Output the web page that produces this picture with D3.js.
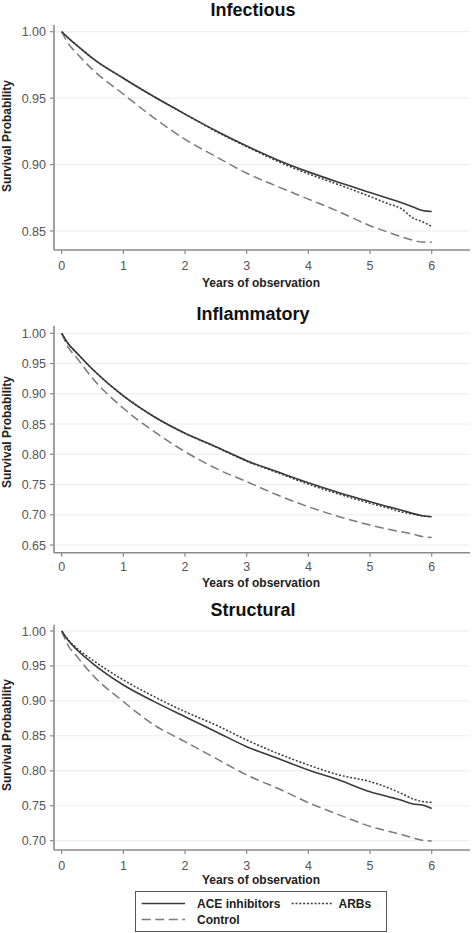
<!DOCTYPE html>
<html><head><meta charset="utf-8">
<script src="https://cdn.jsdelivr.net/npm/d3@7"></script>
<style>body{margin:0;background:#fff}svg{display:block;font-family:"Liberation Sans",Arial,sans-serif}</style>
</head><body><svg id="c" width="472" height="933"></svg>
<script>
// ---- data ----
const times = [0,0.1,0.25,0.5,1,1.5,2,2.5,3,3.5,4,4.5,5,5.3,5.5,5.7,5.85,6];
const seriesNames = ["ACE inhibitors","ARBs","Control"];
const panelTitles = ["Infectious","Inflammatory","Structural"];
const xTicks = [0,1,2,3,4,5,6];
const yTicksInfectious = [0.85,0.90,0.95,1.00];
const yTicksInflammatory = [0.65,0.70,0.75,0.80,0.85,0.90,0.95,1.00];
const yTicksStructural = [0.70,0.75,0.80,0.85,0.90,0.95,1.00];

const infectiousACE = [1.000,0.9955,0.9895,0.980,0.965,0.951,0.938,0.9255,0.914,0.9035,0.8945,0.8865,0.879,0.8745,0.8715,0.868,0.8655,0.8647];
const infectiousARB = [1.000,0.9955,0.9895,0.980,0.965,0.951,0.938,0.925,0.9135,0.9025,0.8930,0.8847,0.876,0.8704,0.867,0.8597,0.857,0.8534];
const infectiousCtl = [1.000,0.9915,0.9835,0.9715,0.953,0.935,0.919,0.906,0.8935,0.8835,0.874,0.8645,0.854,0.849,0.8458,0.843,0.8417,0.8416];

const inflamACE = [1.000,0.9835,0.967,0.9405,0.8964,0.862,0.8346,0.8126,0.7894,0.771,0.753,0.7365,0.7216,0.713,0.708,0.702,0.6985,0.6968];
const inflamARB = [1.000,0.9835,0.967,0.9405,0.8964,0.862,0.8346,0.812,0.7885,0.7695,0.7505,0.734,0.719,0.711,0.705,0.701,0.698,0.6968];
const inflamCtl = [1.000,0.978,0.9587,0.9256,0.876,0.8374,0.8043,0.7767,0.7547,0.7326,0.7133,0.6968,0.683,0.676,0.672,0.668,0.664,0.6626];

const structACE = [1.000,0.987,0.9728,0.9537,0.9227,0.899,0.8774,0.856,0.8345,0.8178,0.8011,0.7868,0.770,0.763,0.7582,0.7525,0.751,0.746];
const structARB = [1.000,0.988,0.975,0.9585,0.930,0.906,0.8846,0.8655,0.844,0.825,0.8083,0.794,0.7845,0.7755,0.768,0.7597,0.756,0.755];
const structCtl = [1.000,0.980,0.9633,0.937,0.899,0.8655,0.8417,0.8178,0.794,0.775,0.7545,0.737,0.7205,0.7135,0.709,0.704,0.7005,0.6995];

// ---- layout ----
const panels = [
  {title:panelTitles[0], ticks:yTicksInfectious, series:[infectiousACE,infectiousARB,infectiousCtl],
   titleY:16, axTop:25, axBot:250, yTopPx:31.7, yBotPx:231, xTickY:269.5, xLabY:287, yLabC:136},
  {title:panelTitles[1], ticks:yTicksInflammatory, series:[inflamACE,inflamARB,inflamCtl],
   titleY:320, axTop:326, axBot:552.7, yTopPx:333.3, yBotPx:545, xTickY:571, xLabY:587, yLabC:432},
  {title:panelTitles[2], ticks:yTicksStructural, series:[structACE,structARB,structCtl],
   titleY:616, axTop:625, axBot:850, yTopPx:631, yBotPx:840.7, xTickY:869.5, xLabY:884, yLabC:735}
];
const axL = 54, axR = 470;
const styles = [
  {stroke:"#3a3a3a", width:1.6, dash:null},
  {stroke:"#3a3a3a", width:1.5, dash:"2,1.8"},
  {stroke:"#7a7a7a", width:1.5, dash:"9,4.5"}
];
const svg = d3.select("#c");
const x = d3.scaleLinear().domain([0,6]).range([61.7,431.7]);

panels.forEach(p => {
  const y = d3.scaleLinear().domain([d3.min(p.ticks), d3.max(p.ticks)]).range([p.yBotPx, p.yTopPx]);
  const g = svg.append("g");
  g.selectAll("line.grid").data(p.ticks).join("line")
    .attr("x1", axL+1).attr("x2", axR).attr("y1", d=>y(d)).attr("y2", d=>y(d))
    .attr("stroke","#ececec").attr("stroke-width",1);
  g.append("line").attr("x1",axL).attr("x2",axL).attr("y1",p.axTop).attr("y2",p.axBot)
    .attr("stroke","#8a8a8a").attr("stroke-width",1.6);
  g.append("line").attr("x1",axL).attr("x2",axR).attr("y1",p.axBot).attr("y2",p.axBot)
    .attr("stroke","#8a8a8a").attr("stroke-width",1.6);
  g.selectAll("line.yt").data(p.ticks).join("line")
    .attr("x1",axL-4).attr("x2",axL).attr("y1",d=>y(d)).attr("y2",d=>y(d))
    .attr("stroke","#8a8a8a").attr("stroke-width",1.2);
  g.selectAll("text.yt").data(p.ticks).join("text")
    .attr("x",axL-8).attr("y",d=>y(d)).attr("dy","0.36em")
    .attr("text-anchor","end").attr("font-size",12.5).attr("fill","#555")
    .text(d=>d3.format(".2f")(d));
  g.selectAll("line.xt").data(xTicks).join("line")
    .attr("x1",d=>x(d)).attr("x2",d=>x(d)).attr("y1",p.axBot).attr("y2",p.axBot+4)
    .attr("stroke","#8a8a8a").attr("stroke-width",1.2);
  g.selectAll("text.xt").data(xTicks).join("text")
    .attr("x",d=>x(d)).attr("y",p.xTickY).attr("text-anchor","middle")
    .attr("font-size",12.5).attr("fill","#555").text(d=>d);
  g.append("text").attr("x",253).attr("y",p.titleY).attr("text-anchor","middle")
    .attr("font-size",18).attr("font-weight","bold").attr("fill","#111").text(p.title);
  g.append("text").attr("x",261).attr("y",p.xLabY).attr("text-anchor","middle")
    .attr("font-size",12).attr("font-weight","bold").attr("fill","#222").text("Years of observation");
  g.append("text").attr("transform",`translate(11,${p.yLabC}) rotate(-90)`).attr("text-anchor","middle")
    .attr("font-size",12).attr("font-weight","bold").attr("fill","#222").text("Survival Probability");
  const line = d3.line().x((d,i)=>x(times[i])).y(d=>y(d)).curve(d3.curveMonotoneX);
  [2,1,0].forEach(k => {
    const s = styles[k];
    g.append("path").attr("d", line(p.series[k])).attr("fill","none")
      .attr("stroke",s.stroke).attr("stroke-width",s.width)
      .attr("stroke-dasharray",s.dash);
  });
});

const lg = svg.append("g");
lg.append("rect").attr("x",135.5).attr("y",891.5).attr("width",251).attr("height",40)
  .attr("fill","#fff").attr("stroke","#555").attr("stroke-width",1);
const legendItems = [
  {name:seriesNames[0], k:0, x1:141.7, x2:185, tx:197, y:903.5},
  {name:seriesNames[1], k:1, x1:291.7, x2:333.3, tx:338.5, y:903.5},
  {name:seriesNames[2], k:2, x1:141.7, x2:185, tx:197, y:919.5}
];
legendItems.forEach(it => {
  const s = styles[it.k];
  lg.append("line").attr("x1",it.x1).attr("x2",it.x2).attr("y1",it.y).attr("y2",it.y)
    .attr("stroke",s.stroke).attr("stroke-width",s.width).attr("stroke-dasharray",s.dash);
  lg.append("text").attr("x",it.tx).attr("y",it.y).attr("dy","0.36em")
    .attr("font-size",12).attr("font-weight","bold").attr("fill","#222").text(it.name);
});
</script></body></html>
